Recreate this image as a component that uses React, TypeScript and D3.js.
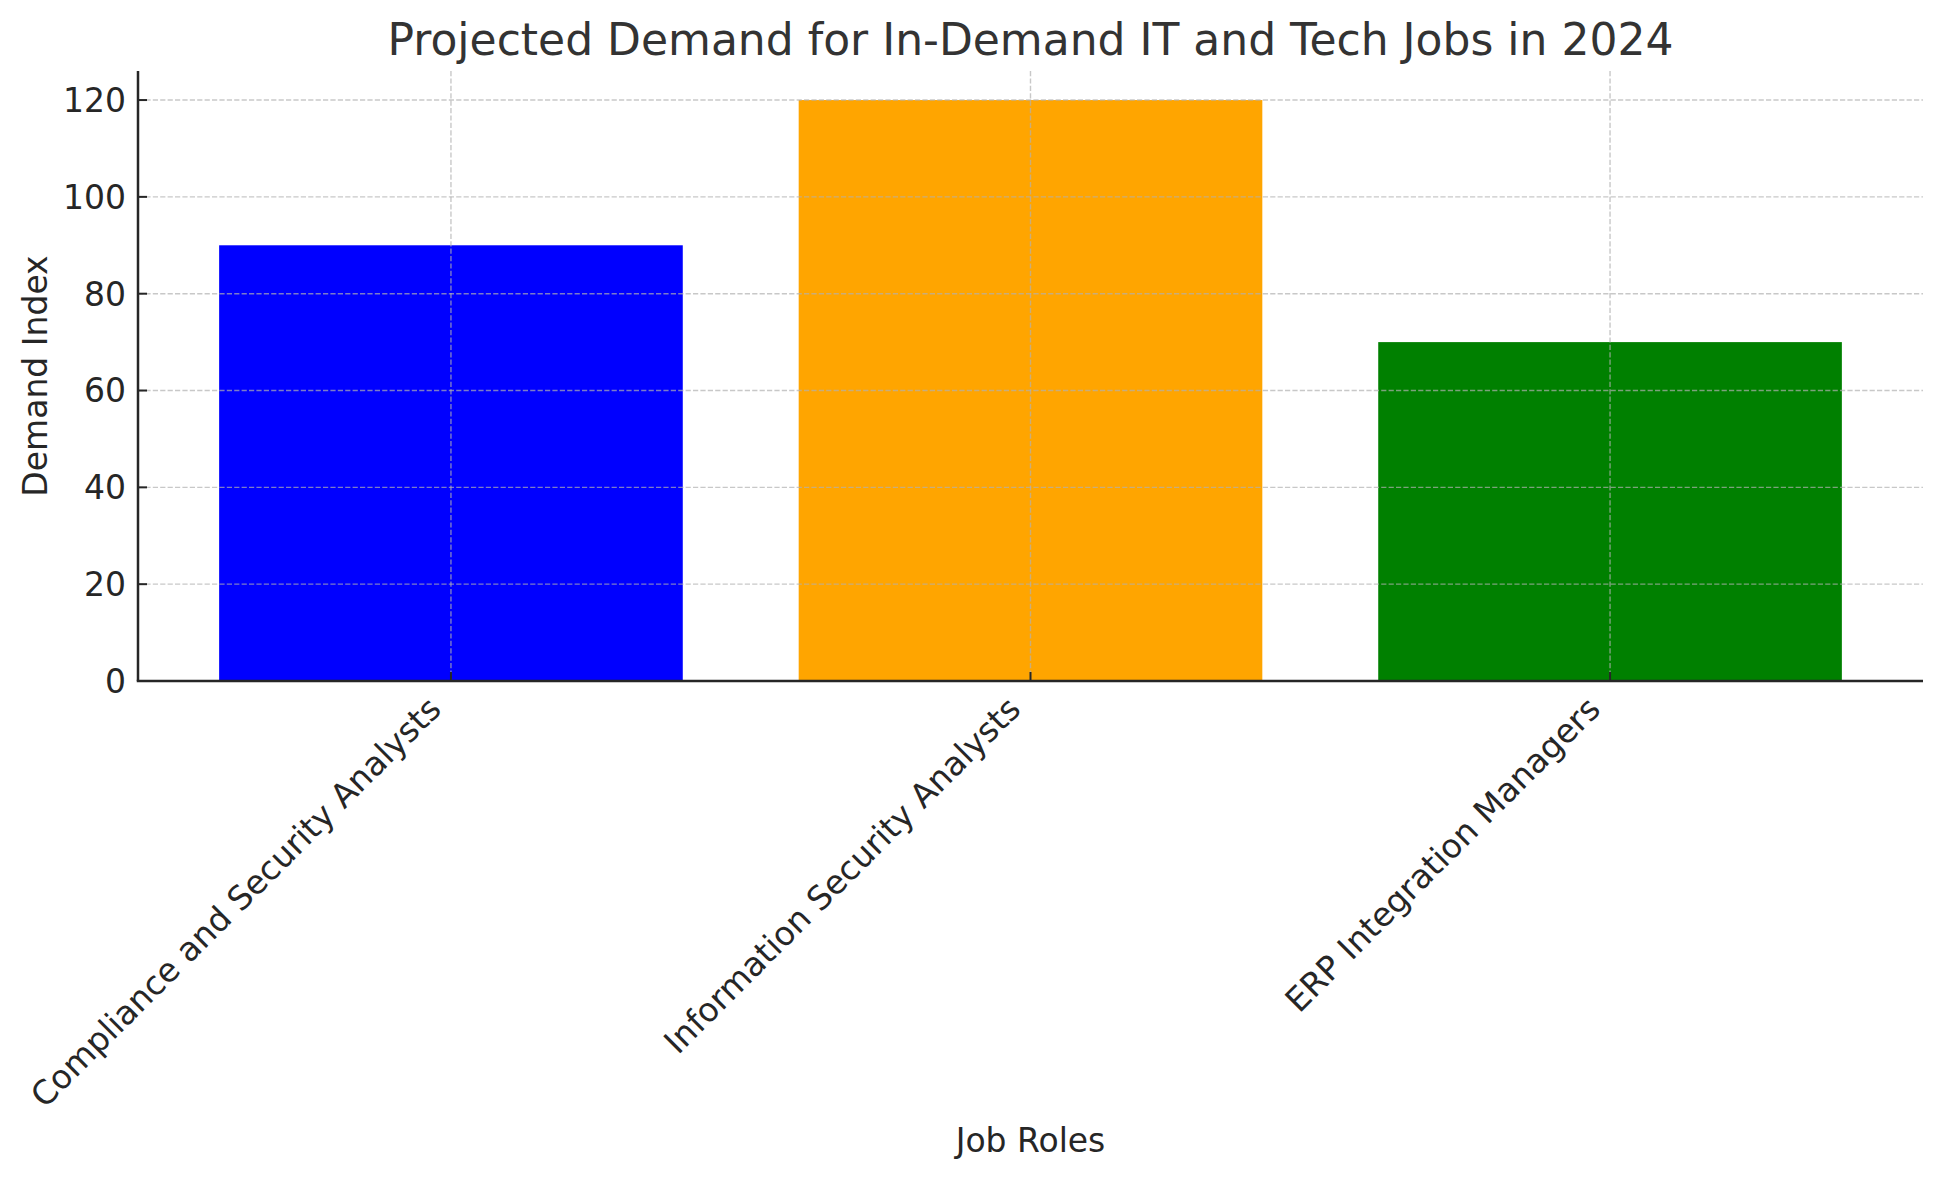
import React, { useEffect, useRef } from 'react'
import * as d3 from 'd3'

const roles = [
  'Compliance and Security Analysts',
  'Information Security Analysts',
  'ERP Integration Managers',
]
const demand = [90, 120, 70]
const barColors = ['blue', 'orange', 'green']
const yTicks = [0, 20, 40, 60, 80, 100, 120]

const WIDTH = 1943
const HEIGHT = 1180
const margin = { top: 71, right: 20, bottom: 499, left: 138 }
const FONT = '"DejaVu Sans", sans-serif'

const App: React.FC = () => {
  const svgRef = useRef<SVGSVGElement>(null)

  useEffect(() => {
    if (!svgRef.current) return
    const svg = d3.select(svgRef.current)
    svg.selectAll('*').remove()
    svg.attr('width', WIDTH).attr('height', HEIGHT)

    const innerW = WIDTH - margin.left - margin.right
    const innerH = HEIGHT - margin.top - margin.bottom

    const x = d3
      .scaleBand<string>()
      .domain(roles)
      .range([0, innerW])
      .paddingInner(0.2)
      .paddingOuter(0.14)

    const y = d3.scaleLinear().domain([0, 126]).range([innerH, 0])

    const g = svg
      .append('g')
      .attr('transform', `translate(${margin.left}, ${margin.top})`)

    // bars
    g.selectAll('rect.bar')
      .data(roles)
      .join('rect')
      .attr('class', 'bar')
      .attr('x', d => x(d)!)
      .attr('width', x.bandwidth())
      .attr('y', (d, i) => y(demand[i]))
      .attr('height', (d, i) => innerH - y(demand[i]))
      .attr('fill', (d, i) => barColors[i])

    // grid, drawn on top of bars like matplotlib
    const grid = g
      .append('g')
      .attr('stroke', '#b0b0b0')
      .attr('stroke-opacity', 0.7)
      .attr('stroke-width', 1.4)
      .attr('stroke-dasharray', '5.2,2.2')

    grid
      .selectAll('line.h')
      .data(yTicks)
      .join('line')
      .attr('class', 'h')
      .attr('x1', 0)
      .attr('x2', innerW)
      .attr('y1', d => y(d))
      .attr('y2', d => y(d))

    grid
      .selectAll('line.v')
      .data(roles)
      .join('line')
      .attr('class', 'v')
      .attr('x1', d => x(d)! + x.bandwidth() / 2)
      .attr('x2', d => x(d)! + x.bandwidth() / 2)
      .attr('y1', 0)
      .attr('y2', innerH)

    // ticks (inward)
    g.selectAll('line.ytick')
      .data(yTicks)
      .join('line')
      .attr('class', 'ytick')
      .attr('x1', 0)
      .attr('x2', 9)
      .attr('y1', d => y(d))
      .attr('y2', d => y(d))
      .attr('stroke', '#262626')
      .attr('stroke-width', 2)

    g.selectAll('line.xtick')
      .data(roles)
      .join('line')
      .attr('class', 'xtick')
      .attr('x1', d => x(d)! + x.bandwidth() / 2)
      .attr('x2', d => x(d)! + x.bandwidth() / 2)
      .attr('y1', innerH)
      .attr('y2', innerH - 9)
      .attr('stroke', '#262626')
      .attr('stroke-width', 2)

    // spines
    g.append('line')
      .attr('x1', 0).attr('x2', 0)
      .attr('y1', 0).attr('y2', innerH)
      .attr('stroke', '#262626')
      .attr('stroke-width', 2.5)
    g.append('line')
      .attr('x1', -1.25).attr('x2', innerW)
      .attr('y1', innerH).attr('y2', innerH)
      .attr('stroke', '#262626')
      .attr('stroke-width', 2.5)

    // tick labels
    g.selectAll('text.ylab')
      .data(yTicks)
      .join('text')
      .attr('class', 'ylab')
      .attr('x', -12)
      .attr('y', d => y(d))
      .attr('dy', '0.36em')
      .attr('text-anchor', 'end')
      .style('font-family', FONT)
      .style('font-size', '33px')
      .attr('fill', '#262626')
      .text(d => d)

    g.selectAll('text.xlab')
      .data(roles)
      .join('text')
      .attr('class', 'xlab')
      .attr('transform', d => `translate(${x(d)! + x.bandwidth() / 2 - 8}, ${innerH + 30}) rotate(-45)`)
      .attr('text-anchor', 'end')
      .style('font-family', FONT)
      .style('font-size', '33px')
      .attr('fill', '#262626')
      .text(d => d)

    // axis titles
    svg.append('text')
      .attr('transform', `translate(47, ${margin.top + innerH / 2}) rotate(-90)`)
      .attr('text-anchor', 'middle')
      .style('font-family', FONT)
      .style('font-size', '33px')
      .attr('fill', '#262626')
      .text('Demand Index')

    svg.append('text')
      .attr('x', margin.left + innerW / 2)
      .attr('y', 1152)
      .attr('text-anchor', 'middle')
      .style('font-family', FONT)
      .style('font-size', '33px')
      .attr('fill', '#262626')
      .text('Job Roles')

    svg.append('text')
      .attr('x', margin.left + innerW / 2)
      .attr('y', 55)
      .attr('text-anchor', 'middle')
      .style('font-family', FONT)
      .style('font-size', '44px')
      .attr('fill', '#333333')
      .text('Projected Demand for In-Demand IT and Tech Jobs in 2024')
  }, [])

  return (
    <div style={{ position: 'absolute', left: 0, top: 0 }}>
      <svg ref={svgRef} style={{ display: 'block', background: 'white' }} />
    </div>
  )
}

export default App
